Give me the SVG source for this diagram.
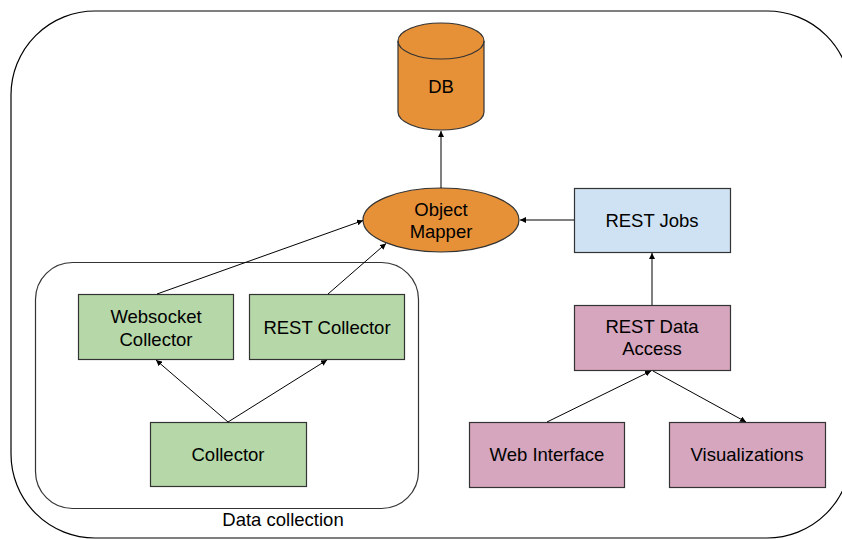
<svg xmlns="http://www.w3.org/2000/svg" width="842" height="539" viewBox="0 0 842 539">
<defs>
<style>
text{font-family:"Liberation Sans",Arial,sans-serif;font-size:18.5px;fill:#000;text-anchor:middle}
.box{stroke:#333;stroke-width:1.2}
.g{fill:#b6d7a8}.p{fill:#d5a6bd}.b{fill:#cfe2f3}.o{fill:#e69138}
.edge{stroke:#000;stroke-width:1;fill:none;marker-end:url(#ah)}
</style>
<marker id="ah" viewBox="0 0 10 10" refX="10" refY="5" markerWidth="6" markerHeight="6" markerUnits="userSpaceOnUse" orient="auto">
<path d="M0,0 L10,5 L0,10 z" fill="#000"/>
</marker>
</defs>
<rect width="842" height="539" fill="#fff"/>
<g id="outer-boundary">
<rect x="11" y="11" width="840" height="527" rx="84" ry="84" fill="none" stroke="#000" stroke-width="1.2"/>
</g>
<g id="data-collection">
<rect x="35.5" y="262.5" width="383" height="246" rx="37" ry="37" fill="none" stroke="#333" stroke-width="1.2"/>
<text x="283" y="526">Data collection</text>
</g>
<g id="db">
<path class="box o" d="M398,41 L398,112 A43,18 0 0 0 484,112 L484,41 A43,18 0 0 0 398,41 z"/>
<path d="M398,41 A43,18 0 0 0 484,41" fill="none" stroke="#333" stroke-width="1.2"/>
<text x="441" y="93">DB</text>
</g>
<g id="object-mapper">
<ellipse class="box o" cx="441" cy="220" rx="78" ry="32"/>
<text x="441" y="216">Object</text>
<text x="441" y="238">Mapper</text>
</g>
<g id="rest-jobs">
<rect class="box b" x="574.5" y="188.5" width="156" height="64"/>
<text x="652" y="227">REST Jobs</text>
</g>
<g id="rest-data-access">
<rect class="box p" x="574.5" y="305.5" width="156" height="65"/>
<text x="652" y="333">REST Data</text>
<text x="652" y="354.5">Access</text>
</g>
<g id="web-interface">
<rect class="box p" x="469.5" y="422.5" width="155" height="65"/>
<text x="547" y="461">Web Interface</text>
</g>
<g id="visualizations">
<rect class="box p" x="669.5" y="422.5" width="156" height="65"/>
<text x="747" y="461">Visualizations</text>
</g>
<g id="websocket-collector">
<rect class="box g" x="78.5" y="294.5" width="155" height="65"/>
<text x="156" y="323">Websocket</text>
<text x="156" y="345.5">Collector</text>
</g>
<g id="rest-collector">
<rect class="box g" x="249.5" y="294.5" width="155" height="65"/>
<text x="327" y="334">REST Collector</text>
</g>
<g id="collector">
<rect class="box g" x="150.5" y="422.5" width="156" height="64"/>
<text x="228" y="461">Collector</text>
</g>
<g id="connectors">
<line class="edge" x1="441" y1="188" x2="441" y2="131"/>
<line class="edge" x1="574" y1="220" x2="520" y2="220"/>
<line class="edge" x1="157" y1="294" x2="363" y2="220.5"/>
<line class="edge" x1="328" y1="294" x2="386" y2="243.5"/>
<line class="edge" x1="228" y1="422" x2="156" y2="360"/>
<line class="edge" x1="228" y1="422" x2="327" y2="360"/>
<line class="edge" x1="652" y1="305" x2="652" y2="253"/>
<line class="edge" x1="547" y1="422" x2="651" y2="371"/>
<line class="edge" x1="653" y1="371" x2="746" y2="422"/>
</g>
</svg>
